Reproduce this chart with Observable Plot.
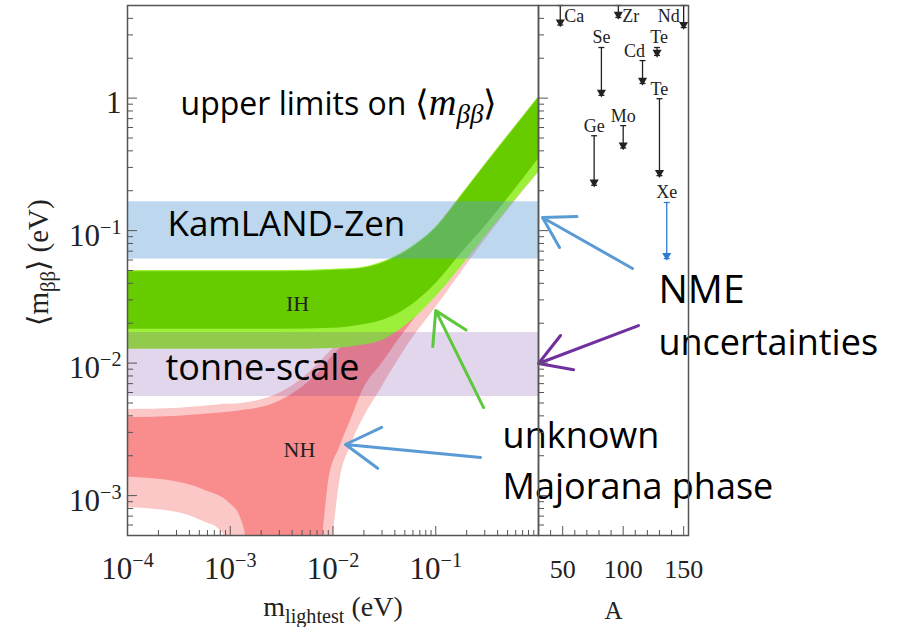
<!DOCTYPE html>
<html>
<head>
<meta charset="utf-8">
<script src="https://cdn.jsdelivr.net/npm/d3@7"></script>
<script src="https://cdn.jsdelivr.net/npm/@observablehq/plot@0.6"></script>
<style>
  html, body { margin: 0; padding: 0; background: #fff; }
  #chart { position: relative; width: 899px; height: 627px; overflow: hidden; background: #fff; }
  #chart > svg { position: absolute; left: 0; top: 0; }
</style>
</head>
<body>
<div id="chart"></div>
<script>
// ---------------- data ----------------
const xDomain = [1e-4, 1];      // m_lightest (eV)
const yDomain = [5e-4, 5];      // <m_bb> (eV)
const aDomain = [30, 154];      // mass number A

// Normal hierarchy, inner band
const nhInnerX    = [1e-4, 3.16e-4, 5.62e-4, 1e-3, 1.26e-3, 1.41e-3, 1.58e-3, 3.16e-3, 7.08e-3, 7.94e-3, 9.12e-3, 1.17e-2, 1.58e-2, 1.86e-2, 3.16e-2, 4.57e-2, 5.62e-2, 0.1, 0.316, 1];
const nhInnerLow  = [1.38e-3, 1.26e-3, 1.10e-3, 8.7e-4, 6.8e-4, 5.0e-4, 2.5e-4, 2.5e-4, 2.5e-4, 5.0e-4, 1.32e-3, 2.34e-3, 4.17e-3, 5.75e-3, 1.05e-2, 1.58e-2, 1.95e-2, 3.55e-2, 0.112, 0.355];
const nhInnerHigh = [3.89e-3, 3.98e-3, 4.12e-3, 4.27e-3, 4.37e-3, 4.42e-3, 4.47e-3, 5.25e-3, 8.32e-3, 9.12e-3, 1.05e-2, 1.29e-2, 1.62e-2, 1.86e-2, 3.02e-2, 4.37e-2, 5.37e-2, 9.77e-2, 0.316, 1.0];
// Normal hierarchy, outer band
const nhOuterX    = [1e-4, 3.16e-4, 5.62e-4, 7.94e-4, 8.71e-4, 1e-3, 3.16e-3, 8.91e-3, 1e-2, 1.17e-2, 1.48e-2, 2.09e-2, 2.69e-2, 5.62e-2, 0.1, 0.316, 1];
const nhOuterLow  = [8.13e-4, 7.41e-4, 6.31e-4, 5.50e-4, 5.0e-4, 2.5e-4, 2.5e-4, 2.5e-4, 5.0e-4, 1.32e-3, 2.34e-3, 4.17e-3, 5.75e-3, 1.45e-2, 2.63e-2, 8.91e-2, 0.275];
const nhOuterHigh = [4.47e-3, 4.57e-3, 4.73e-3, 4.84e-3, 4.90e-3, 4.90e-3, 6.03e-3, 1.17e-2, 1.29e-2, 1.45e-2, 1.74e-2, 2.34e-2, 2.88e-2, 5.89e-2, 0.105, 0.331, 1.02];
// Inverted hierarchy
const ihX         = [1e-4, 1e-3, 3.16e-3, 1e-2, 1.78e-2, 3.16e-2, 5.62e-2, 0.1, 0.178, 0.316, 0.562, 1];
const ihInnerLow  = [0.0180, 0.0180, 0.0180, 0.0183, 0.0192, 0.0212, 0.0269, 0.0398, 0.0676, 0.112, 0.195, 0.347];
const ihInnerHigh = [0.0490, 0.0490, 0.0490, 0.0501, 0.0513, 0.0575, 0.0724, 0.104, 0.182, 0.324, 0.569, 1.0];
const ihOuterLow  = [0.0127, 0.0127, 0.0127, 0.0129, 0.0135, 0.0151, 0.0204, 0.0316, 0.0537, 0.0933, 0.162, 0.275];
const ihOuterHigh = [0.0500, 0.0500, 0.0500, 0.0511, 0.0523, 0.0587, 0.0739, 0.106, 0.186, 0.330, 0.580, 1.02];

// Sensitivity bands
const kamlandBand = [0.061, 0.165];
const tonneBand   = [0.0056, 0.017];

// Isotope upper limits (right panel)
const isotopes    = ["Ca", "Ge", "Se", "Zr", "Mo", "Cd", "Te", "Te", "Xe", "Nd"];
const massNumbers = [48, 76, 82, 96, 100, 116, 128, 130, 136, 150];
const limitFrom   = [5.0, 0.52, 2.41, 5.0, 0.62, 1.92, 2.41, 0.99, 0.163, 5.0];
const limitTo     = [3.56, 0.22, 1.05, 4.06, 0.42, 1.29, 2.10, 0.26, 0.0615, 3.41];

// Ticks
const xMajorTicks = [1e-4, 1e-3, 1e-2, 1e-1];
const xTickLabels = ["10^{−4}", "10^{−3}", "10^{−2}", "10^{−1}"];
const yMajorTicks = [1e-3, 1e-2, 1e-1, 1];
const yTickLabels = ["10^{−3}", "10^{−2}", "10^{−1}", "1"];
const aMajorTicks = [50, 100, 150];
const aMinorTicks = [40, 60, 70, 80, 90, 110, 120, 130, 140];

// ---------------- helpers ----------------
const toRows = (xs, lo, hi) => xs.map((x, i) => ({x, lo: lo[i], hi: hi[i]}));
const nhInner = toRows(nhInnerX, nhInnerLow, nhInnerHigh);
const nhOuter = toRows(nhOuterX, nhOuterLow, nhOuterHigh);
const ihInner = toRows(ihX, ihInnerLow, ihInnerHigh);
const ihOuter = toRows(ihX, ihOuterLow, ihOuterHigh);
const iso = isotopes.map((name, i) => ({name, A: massNumbers[i], from: limitFrom[i], to: limitTo[i]}));

function logMinor([lo, hi]) {
  const out = [];
  for (let e = Math.floor(Math.log10(lo)); e <= Math.ceil(Math.log10(hi)); e++)
    for (let m = 2; m <= 9; m++) {
      const v = +(m * Math.pow(10, e)).toPrecision(6);
      if (v > lo * 1.001 && v < hi * 0.999) out.push(v);
    }
  return out;
}
const xMinor = logMinor(xDomain);
const yMinor = logMinor(yDomain);

const SERIF = "Liberation Serif, Times New Roman, serif";
const SANS = "Open Sans, Noto Sans, sans-serif";
const AX = "#555";
const C = {
  nhOuter: "#fbc7c7", nhInner: "#f98c8c",
  ihOuter: "#9cf03a", ihInner: "#66cc00",
  kam: "#5b9bd5", tonne: "#7030a0",
  blue: "#5b9bd5", green: "#5cc83c", purple: "#7030a0"
};
const arrowStyle = {x1: "x1", y1: "y1", x2: "x2", y2: "y2", strokeWidth: 3, headLength: 20, headAngle: 62};

// ---------------- left panel ----------------
const left = Plot.plot({
  width: 899, height: 627,
  marginLeft: 127, marginRight: 361, marginTop: 5, marginBottom: 92,
  x: {type: "log", domain: xDomain},
  y: {type: "log", domain: yDomain},
  style: {background: "transparent", overflow: "visible"},
  marks: [
    Plot.areaY(nhOuter, {x: "x", y1: "lo", y2: "hi", fill: C.nhOuter, curve: "monotone-x", clip: true}),
    Plot.areaY(nhInner, {x: "x", y1: "lo", y2: "hi", fill: C.nhInner, curve: "monotone-x", clip: true}),
    Plot.areaY(ihOuter, {x: "x", y1: "lo", y2: "hi", fill: C.ihOuter, curve: "monotone-x", clip: true}),
    Plot.areaY(ihInner, {x: "x", y1: "lo", y2: "hi", fill: C.ihInner, curve: "monotone-x", clip: true}),
    Plot.rect([kamlandBand], {x1: xDomain[0], x2: xDomain[1], y1: d => d[0], y2: d => d[1], fill: C.kam, fillOpacity: 0.4}),
    Plot.rect([tonneBand], {x1: xDomain[0], x2: xDomain[1], y1: d => d[0], y2: d => d[1], fill: C.tonne, fillOpacity: 0.2}),

    Plot.text(["upper limits on !{⟨}*m*_{*ββ*}!{⟩}"], {x: 3.28e-4, y: 0.75, text: d => d, textAnchor: "start", lineAnchor: "bottom", fontSize: 32, fontFamily: SANS, fill: "#000"}),
    Plot.text(["KamLAND-Zen"], {x: 2.45e-4, y: 0.0918, text: d => d, textAnchor: "start", lineAnchor: "bottom", fontSize: 35, fontFamily: SANS, fill: "#000"}),
    Plot.text(["tonne-scale"], {x: 2.34e-4, y: 0.0074, text: d => d, textAnchor: "start", lineAnchor: "bottom", fontSize: 36, fontFamily: SANS, fill: "#000"}),
    Plot.text(["IH"], {x: 4.52e-3, y: 0.0249, text: d => d, textAnchor: "middle", lineAnchor: "bottom", fontSize: 22, fontFamily: SERIF, fill: "#222"}),
    Plot.text(["NH"], {x: 4.72e-3, y: 0.00194, text: d => d, textAnchor: "middle", lineAnchor: "bottom", fontSize: 22, fontFamily: SERIF, fill: "#222"}),

    // ticks (inward)
    Plot.axisY(yMinor, {anchor: "left", tickSize: -6, tickFormat: () => "", stroke: AX, label: null}),
    Plot.axisY(yMajorTicks, {anchor: "left", tickSize: -10, tickFormat: () => "", stroke: AX, label: null}),
    Plot.axisY(yMajorTicks, {anchor: "left", tickSize: 0, tickPadding: 6, dy: 5, tickFormat: d => yTickLabels[yMajorTicks.indexOf(d)], fontSize: 31, fontFamily: SERIF, fill: "#222", label: null}),
    Plot.axisX(xMinor, {anchor: "bottom", tickSize: -5, tickFormat: () => "", stroke: AX, label: null}),
    Plot.axisX(xMajorTicks, {anchor: "bottom", tickSize: -9, tickFormat: () => "", stroke: AX, label: null}),
    Plot.axisX(xMajorTicks, {anchor: "bottom", tickSize: 0, tickPadding: 21, tickFormat: d => xTickLabels[xMajorTicks.indexOf(d)], fontSize: 31, fontFamily: SERIF, fill: "#222", label: null}),
    Plot.frame({stroke: AX, strokeWidth: 1.5}),

    // axis titles
    Plot.text(["m_{lightest} (eV)"], {frameAnchor: "bottom", dy: 80, text: d => d, textAnchor: "middle", lineAnchor: "bottom", fontSize: 28, fontFamily: SERIF, fill: "#222"}),
    Plot.text(["⟨m_{ββ}⟩ (eV)"], {frameAnchor: "left", dx: -80, dy: -8, rotate: -90, text: d => d, textAnchor: "middle", lineAnchor: "bottom", fontSize: 29, fontFamily: SERIF, fill: "#222"}),

    // annotation arrows
    Plot.arrow([{x1: 8.22, y1: 0.0518, x2: 1.094, y2: 0.1256}], {...arrowStyle, stroke: C.blue}),
    Plot.arrow([{x1: 9.4, y1: 0.0192, x2: 1.0, y2: 0.00993}], {...arrowStyle, stroke: C.purple}),
    Plot.arrow([{x1: 0.292, y1: 0.00462, x2: 0.1, y2: 0.0249}], {...arrowStyle, stroke: C.green}),
    Plot.arrow([{x1: 0.273, y1: 0.00194, x2: 0.01324, y2: 0.00243}], {...arrowStyle, stroke: C.blue}),

    // annotation texts
    Plot.text(["NME"], {x: 14.7, y: 0.0282, text: d => d, textAnchor: "start", lineAnchor: "bottom", fontSize: 39, fontFamily: SANS, fill: "#000"}),
    Plot.text(["uncertainties"], {x: 14.7, y: 0.0116, text: d => d, textAnchor: "start", lineAnchor: "bottom", fontSize: 36, fontFamily: SANS, fill: "#000"}),
    Plot.text(["unknown"], {x: 0.447, y: 0.00227, text: d => d, textAnchor: "start", lineAnchor: "bottom", fontSize: 36, fontFamily: SANS, fill: "#000"}),
    Plot.text(["Majorana phase"], {x: 0.447, y: 0.00095, text: d => d, textAnchor: "start", lineAnchor: "bottom", fontSize: 36, fontFamily: SANS, fill: "#000"})
  ]
});

// ---------------- right panel ----------------
const isoColor = d => d.name === "Xe" ? "#2f7bd0" : "#222";
const hbar = {draw(ctx, size) { const r = Math.sqrt(size / Math.PI); ctx.moveTo(-r, 0); ctx.lineTo(r, 0); }};
const side = d => (d.A === 48 || d.A === 96) ? "right" : d.A === 150 ? "left" : "above";
// small nudges so the crowded labels near A = 116-150 do not collide
const nudgeX = d => d.A === 116 ? -8 : d.A === 128 ? 2 : 0;

const right = Plot.plot({
  width: 899, height: 627,
  marginLeft: 538, marginRight: 211, marginTop: 5, marginBottom: 92,
  x: {domain: aDomain},
  y: {type: "log", domain: yDomain},
  style: {background: "transparent", overflow: "visible"},
  marks: [
    Plot.ruleX(iso, {x: "A", y1: "from", y2: "to", stroke: isoColor, strokeWidth: 1.3}),
    Plot.dot(iso, {x: "A", y: "from", symbol: hbar, r: 3, stroke: isoColor, strokeWidth: 1.3}),
    Plot.dot(iso, {x: "A", y: "to", symbol: "triangle", rotate: 180, r: 3.4, fill: isoColor, stroke: "none", dy: -3}),
    Plot.dot(iso, {x: "A", y: "to", symbol: hbar, r: 3, stroke: isoColor, strokeWidth: 1.3}),
    ...iso.filter(d => side(d) === "above").map(d =>
      Plot.text([d], {x: "A", y: "from", text: "name", textAnchor: "middle", lineAnchor: "bottom", dx: nudgeX(d), dy: -4, fontSize: 18, fontFamily: SERIF, fill: "#222"})),
    Plot.text(iso.filter(d => side(d) === "right"), {x: "A", y: "from", text: "name", textAnchor: "start", lineAnchor: "bottom", dx: 4, dy: 16, fontSize: 18, fontFamily: SERIF, fill: "#222"}),
    Plot.text(iso.filter(d => side(d) === "left"), {x: "A", y: "from", text: "name", textAnchor: "end", lineAnchor: "bottom", dx: -4, dy: 16, fontSize: 18, fontFamily: SERIF, fill: "#222"}),

    Plot.axisY(yMinor, {anchor: "left", tickSize: -6, tickFormat: () => "", stroke: AX, label: null}),
    Plot.axisY(yMajorTicks, {anchor: "left", tickSize: -10, tickFormat: () => "", stroke: AX, label: null}),
    Plot.axisX(aMinorTicks, {anchor: "bottom", tickSize: -5, tickFormat: () => "", stroke: AX, label: null}),
    Plot.axisX(aMajorTicks, {anchor: "bottom", tickSize: -9, tickFormat: () => "", stroke: AX, label: null}),
    Plot.axisX(aMajorTicks, {anchor: "bottom", tickSize: 0, tickPadding: 24, tickFormat: d => String(d), fontSize: 26, fontFamily: SERIF, fill: "#222", label: null}),
    Plot.frame({stroke: AX, strokeWidth: 1.5}),
    Plot.text(["A"], {frameAnchor: "bottom", dy: 83, text: d => d, textAnchor: "middle", lineAnchor: "bottom", fontSize: 25, fontFamily: SERIF, fill: "#222"})
  ]
});

const chart = document.getElementById("chart");
chart.append(left, right);

// ---------------- rich text (sub/superscripts, math italic) ----------------
function rich(el) {
  const s = el.textContent;
  if (!/(\^\{|_\{|\*|!\{)/.test(s)) return;
  const fs = parseFloat(getComputedStyle(el).fontSize) || 16;
  const parts = s.split(/(\^\{[^}]*\}|_\{[^}]*\}|\*[^*]*\*|!\{[^}]*\})/).filter(p => p);
  el.textContent = "";
  let shift = 0;
  for (const p of parts) {
    let target = 0, size = null, italic = false, serif = false, txt = p;
    if (p.startsWith("^{")) { target = -0.38 * fs; size = 0.65 * fs; txt = p.slice(2, -1); }
    else if (p.startsWith("_{")) { target = 0.25 * fs; size = 0.72 * fs; txt = p.slice(2, -1); }
    else if (p.startsWith("!{")) { serif = true; size = 1.1 * fs; txt = p.slice(2, -1); }
    else if (p.length > 1 && p.startsWith("*") && p.endsWith("*")) { serif = true; italic = true; size = 1.2 * fs; txt = p.slice(1, -1); }
    if (txt.length > 1 && txt.startsWith("*") && txt.endsWith("*")) { serif = true; italic = true; size = 0.85 * fs; txt = txt.slice(1, -1); }
    const t = document.createElementNS("http://www.w3.org/2000/svg", "tspan");
    t.textContent = txt;
    if (target !== shift) t.setAttribute("dy", String(target - shift));
    shift = target;
    if (size) t.setAttribute("font-size", String(size));
    if (serif) t.setAttribute("font-family", SERIF);
    if (italic) t.setAttribute("font-style", "italic");
    el.appendChild(t);
  }
}
d3.selectAll("#chart text").each(function() { rich(this); });
</script>
</body>
</html>
